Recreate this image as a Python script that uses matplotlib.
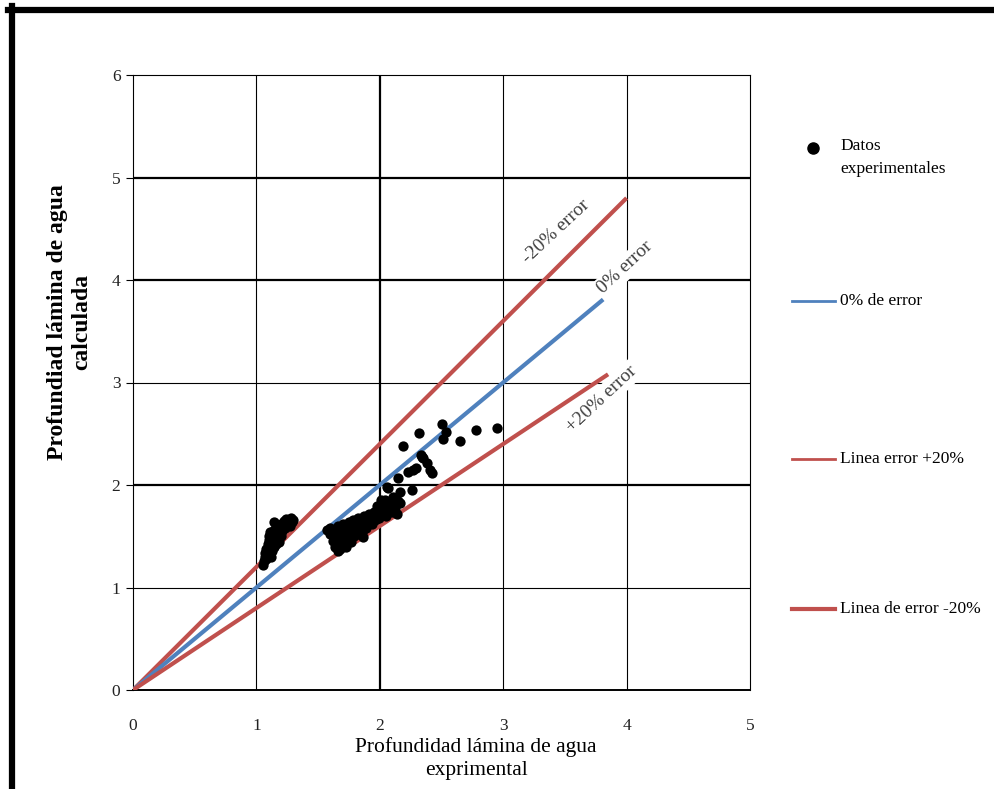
import matplotlib.pyplot as plt
from matplotlib.lines import Line2D

plt.rcParams['font.family'] = ['Liberation Serif', 'DejaVu Serif']

# Experimental points (x = measured depth, y = calculated depth)
x_exp = [1.05, 1.06, 1.07, 1.07, 1.08, 1.08, 1.09, 1.09, 1.10, 1.10, 1.10, 1.11, 1.11,
         1.12, 1.12, 1.12, 1.13, 1.13, 1.14, 1.14, 1.14, 1.15, 1.15, 1.16, 1.16, 1.17,
         1.17, 1.18, 1.18, 1.19, 1.20, 1.20, 1.21, 1.22, 1.23, 1.24, 1.25, 1.26, 1.27,
         1.28, 1.29, 1.30,
         1.57, 1.60, 1.60, 1.62, 1.63, 1.64, 1.65, 1.66, 1.66, 1.67, 1.68, 1.68, 1.69,
         1.70, 1.70, 1.71, 1.72, 1.72, 1.73, 1.74, 1.75, 1.75, 1.76, 1.77, 1.78, 1.78,
         1.79, 1.80, 1.81, 1.82, 1.83, 1.84, 1.85, 1.86, 1.86, 1.87, 1.88, 1.89, 1.90,
         1.91, 1.92, 1.93, 1.94, 1.95, 1.96, 1.97, 1.98, 1.99, 2.00, 2.01, 2.02, 2.03,
         2.05, 2.07, 2.08, 2.10, 2.12, 2.14, 2.15,
         2.04, 2.06, 2.07, 2.11, 2.14, 2.15, 2.16, 2.16, 2.23, 2.26, 2.27, 2.29, 2.33,
         2.34, 2.35, 2.38, 2.41, 2.42, 2.19, 2.32, 2.50, 2.54, 2.51, 2.65, 2.78, 2.95]
y_exp = [1.22, 1.26, 1.30, 1.34, 1.28, 1.38, 1.32, 1.42, 1.36, 1.46, 1.50, 1.40, 1.54,
         1.30, 1.44, 1.48, 1.36, 1.52, 1.40, 1.56, 1.64, 1.46, 1.50, 1.42, 1.55, 1.48,
         1.60, 1.52, 1.44, 1.57, 1.50, 1.62, 1.55, 1.65, 1.58, 1.67, 1.62, 1.66, 1.60,
         1.68, 1.64, 1.66,
         1.56, 1.52, 1.58, 1.45, 1.55, 1.40, 1.50, 1.36, 1.60, 1.44, 1.38, 1.55, 1.48,
         1.42, 1.62, 1.52, 1.46, 1.58, 1.40, 1.55, 1.48, 1.64, 1.52, 1.44, 1.58, 1.66,
         1.50, 1.62, 1.55, 1.68, 1.52, 1.60, 1.65, 1.56, 1.49, 1.70, 1.62, 1.58, 1.66,
         1.72, 1.64, 1.68, 1.62, 1.74, 1.66, 1.70, 1.80, 1.68, 1.75, 1.85, 1.72, 1.78,
         1.70, 1.76, 1.82, 1.74, 1.78, 1.72, 1.84,
         1.85, 1.98, 1.97, 1.88, 1.82, 2.07, 1.93, 1.82, 2.13, 1.95, 2.15, 2.17, 2.29,
         2.27, 2.26, 2.21, 2.15, 2.12, 2.38, 2.51, 2.60, 2.52, 2.45, 2.43, 2.54, 2.56]

# Reference lines
x_zero = [0, 3.81]
y_zero = [0, 3.81]
x_plus = [0, 3.85]
y_plus = [0, 3.08]
x_minus = [0, 4.0]
y_minus = [0, 4.8]

blue = '#4F81BD'
red = '#C0504D'

W, H = 994, 789
fig = plt.figure(figsize=(W / 100, H / 100), dpi=100)
ax = fig.add_axes([133 / W, 1 - 690 / H, (750 - 133) / W, (690 - 75) / H])


def px(x, y):
    return x / W, 1 - y / H


ax.set_xlim(0, 5)
ax.set_ylim(0, 6)
ax.set_xticks(range(6))
ax.set_yticks(range(7))

# grid: some lines come out thicker in the original raster
thick_x = [2]
thick_y = [2, 4, 5]
for v in range(1, 5):
    ax.axvline(v, color='black', lw=1.6 if v in thick_x else 0.8, zorder=1)
for v in range(1, 6):
    ax.axhline(v, color='black', lw=1.6 if v in thick_y else 0.8, zorder=1)
for s in ax.spines.values():
    s.set_linewidth(0.8)
ax.spines['bottom'].set_linewidth(1.4)

ax.plot(x_minus, y_minus, color=red, lw=3, zorder=3, solid_capstyle='butt')
ax.plot(x_zero, y_zero, color=blue, lw=3, zorder=3, solid_capstyle='butt')
ax.plot(x_plus, y_plus, color=red, lw=3, zorder=3, solid_capstyle='butt')
ax.scatter(x_exp, y_exp, s=55, color='black', zorder=4, linewidths=0)

box = dict(facecolor='white', edgecolor='none', pad=2)
ax.text(3.43, 4.47, '-20% error', rotation=43, ha='center', va='center',
        fontsize=14, color='#404040', bbox=box, zorder=5)
ax.text(3.99, 4.12, '0% error', rotation=43, ha='center', va='center',
        fontsize=14, color='#404040', bbox=box, zorder=5)
ax.text(3.80, 2.84, '+20% error', rotation=43, ha='center', va='center',
        fontsize=14, color='#404040', bbox=box, zorder=5)

ax.tick_params(axis='y', direction='out', length=5, width=0.8, pad=4,
               labelsize=12.5, labelcolor='#222222')
ax.tick_params(axis='x', length=0, pad=20, labelsize=12.5, labelcolor='#222222')

ax.set_xlabel('Profundidad lámina de agua\nexprimental', fontsize=15.5,
              linespacing=1.3)
ax.xaxis.set_label_coords(0.556, -0.077)
ax.set_ylabel('Profundiad lámina de agua\ncalculada', fontsize=17,
              fontweight='bold', linespacing=1.2)
ax.yaxis.set_label_coords(-0.066, 0.598)

# legend drawn by hand to keep the wide spacing of the original
fig.add_artist(Line2D([px(813, 0)[0]], [px(0, 148)[1]], marker='o', color='black',
                      markersize=8, linestyle='none'))
fig.text(*px(840, 138), 'Datos\nexperimentales', fontsize=12.5, va='top', ha='left',
         linespacing=1.55)
entries = [(301, blue, 2, '0% de error'),
           (459, red, 2, 'Linea error +20%'),
           (609, red, 3, 'Linea de error -20%')]
for y, c, lw, label in entries:
    (x0, yy), (x1, _) = px(792, y), px(835, y)
    fig.add_artist(Line2D([x0, x1], [yy, yy], color=c, lw=lw))
    fig.text(*px(840, y), label, fontsize=12.5, va='center', ha='left')

# thick frame on top and left of the original picture
fig.add_artist(Line2D([px(8, 0)[0], 1], [px(0, 9.5)[1]] * 2, color='black', lw=4.5))
fig.add_artist(Line2D([px(12, 0)[0]] * 2, [px(0, 6)[1], 0], color='black', lw=4.5))

fig.savefig('out.png', dpi=100)
